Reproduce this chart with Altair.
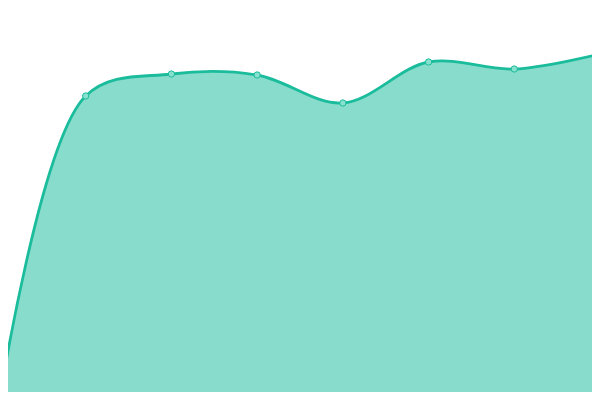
import altair as alt
import pandas as pd

idx = [0, 1, 2, 3, 4, 5, 6, 7]
values = [2, 304, 326, 325, 297, 338, 331, 346]

df = pd.DataFrame({"i": idx, "v": values})

x = alt.X("i:Q", axis=None, scale=alt.Scale(domain=[0, 7], nice=False, zero=False))
y = alt.Y("v:Q", axis=None, scale=alt.Scale(domain=[0, 400], nice=False))

base = alt.Chart(df).encode(x=x, y=y)

area = base.mark_area(interpolate="catmull-rom", color="#1abc9c", opacity=0.52)
line = base.mark_line(interpolate="catmull-rom", color="#1abc9c", strokeWidth=2.8)
pts = base.mark_point(filled=True, size=40, fill="#88e0cf", stroke="#1abc9c",
                      strokeWidth=1, opacity=1)

chart = alt.layer(area, line, pts).properties(
    width=600, height=400,
    padding={"left": -8, "top": -8, "right": -8, "bottom": -8},
    autosize=alt.AutoSizeParams(type="none"),
).configure_view(stroke=None)

chart.save("out.html", embed_options={"renderer": "svg", "actions": False})
